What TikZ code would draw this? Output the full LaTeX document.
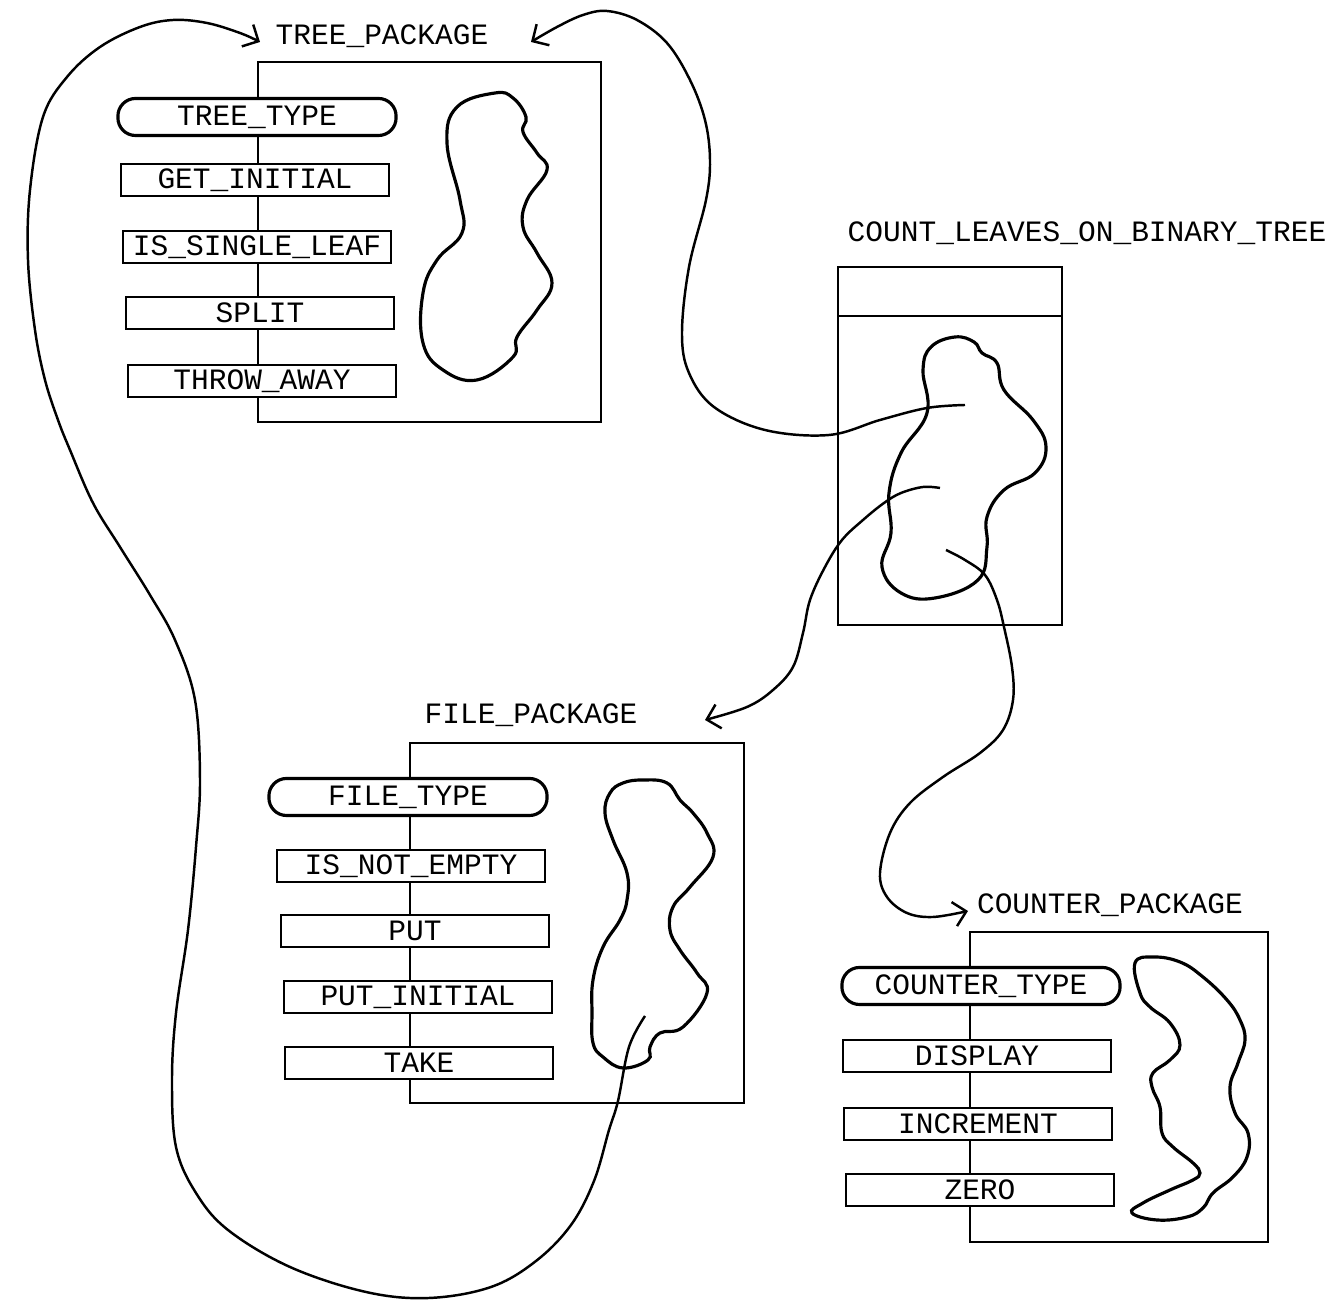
\documentclass[tikz,border=0pt]{standalone}
\usepackage{fontspec}
\setmonofont{Liberation Mono}
\usetikzlibrary{arrows.meta}

\begin{document}
\begin{tikzpicture}[x=0.01cm, y=-0.01cm,
	font=\fontsize{8.4}{10}\selectfont\ttfamily,
	pkgbox/.style={draw, line width=0.6pt, inner sep=0pt},
	opbox/.style={draw, fill=white, line width=0.6pt, inner sep=0pt, minimum width=2.67cm, minimum height=0.32cm},
	typebox/.style={opbox, rounded corners=5pt, minimum width=2.78cm, minimum height=0.37cm, line width=0.9pt},
	blob/.style={line width=0.9pt},
	link/.style={line width=0.7pt, -{Straight Barb[length=3.5pt,width=7pt]}},
	title/.style={inner sep=0pt}]
	\useasboundingbox (0,0) rectangle (1344,1304);

	% titles
	\node[title] (treetitle) at (382,36) {TREE\_PACKAGE};
	\node[title] (counttitle) at (1087,233) {COUNT\_LEAVES\_ON\_BINARY\_TREE};
	\node[title] (filetitle) at (531,715) {FILE\_PACKAGE};
	\node[title] (countertitle) at (1110,905) {COUNTER\_PACKAGE};

	% package bodies
	\node[pkgbox, minimum width=3.43cm, minimum height=3.60cm] (treebox) at (429.5,242) {};
	\node[pkgbox, minimum width=2.24cm, minimum height=3.58cm] (countbox) at (950,446) {};
	\node[pkgbox, minimum width=3.34cm, minimum height=3.60cm] (filebox) at (577,923) {};
	\node[pkgbox, minimum width=2.98cm, minimum height=3.10cm] (counterbox) at (1119,1087) {};
	\draw[line width=0.6pt] (838,316) -- (1062,316);

	% visible parts
	\node[typebox] (treetype) at (257,117) {TREE\_TYPE};
	\node[opbox] (getinitial) at (255,180) {GET\_INITIAL};
	\node[opbox] (issingleleaf) at (257,247) {IS\_SINGLE\_LEAF};
	\node[opbox] (split) at (260,313) {SPLIT};
	\node[opbox] (throwaway) at (262,381) {THROW\_AWAY};

	\node[typebox] (filetype) at (408,797) {FILE\_TYPE};
	\node[opbox] (isnotempty) at (411,866) {IS\_NOT\_EMPTY};
	\node[opbox] (put) at (415,931) {PUT};
	\node[opbox] (putinitial) at (418,997) {PUT\_INITIAL};
	\node[opbox] (take) at (419,1063) {TAKE};

	\node[typebox] (countertype) at (981,986) {COUNTER\_TYPE};
	\node[opbox] (display) at (977,1056) {DISPLAY};
	\node[opbox] (increment) at (978,1124) {INCREMENT};
	\node[opbox] (zero) at (980,1190) {ZERO};

	% bodies (hidden parts)
	\draw[blob] plot[smooth cycle, tension=0.7] coordinates {(495,93) (513,98) (526,117) (523,132) (537,153) (547,170) (527,200) (523,227) (537,253) (552,283) (537,310) (517,337) (513,357) (477,380) (443,370) (423,343) (423,293) (437,260) (462,233) (460,200) (447,143) (457,107)};
	\draw[blob] plot[smooth cycle, tension=0.7] coordinates {(955,337) (974,342) (982,353) (997,363) (1004,390) (1033,420) (1046,447) (1035,473) (1004,490) (987,517) (987,547) (978,580) (935,598) (901,593) (882,567) (891,533) (889,493) (901,453) (927,413) (923,370) (931,347)};
	\draw[blob] plot[smooth cycle, tension=0.7] coordinates {(643,780) (667,783) (680,800) (693,813) (707,833) (713,857) (690,887) (673,907) (670,930) (680,950) (697,973) (707,993) (683,1027) (660,1033) (650,1047) (648,1060) (623,1068) (603,1057) (593,1043) (592,1013) (593,980) (603,947) (620,920) (627,900) (627,873) (613,840) (605,813) (610,793) (623,783)};
	\draw[blob] plot[smooth cycle, tension=0.7] coordinates {(1135,963) (1140,993) (1150,1007) (1170,1023) (1180,1045) (1170,1060) (1153,1073) (1152,1087) (1160,1107) (1162,1133) (1173,1147) (1193,1163) (1200,1173) (1193,1180) (1170,1190) (1143,1203) (1132,1213) (1157,1220) (1187,1217) (1203,1208) (1213,1193) (1233,1177) (1247,1157) (1248,1133) (1235,1113) (1230,1087) (1238,1063) (1245,1040) (1240,1020) (1227,1000) (1203,977) (1180,962) (1153,957)};

	% uses
	\coordinate (fromcount1) at (965,405);
	\coordinate (fromcount2) at (940,488);
	\coordinate (fromcount3) at (946,550);
	\coordinate (fromfile) at (645,1016);
	\coordinate (intree1) at (531,42);
	\coordinate (intree2) at (260,42);
	\coordinate (infile) at (705,720);
	\coordinate (incounter) at (968,911);

	\draw[link] plot[smooth, tension=0.6] coordinates {(fromcount1) (927,408) (880,420) (829,435) (765,430) (714,407) (689,373) (682,333) (689,267) (706,200) (710,160) (705,120) (690,80) (667,43) (637,20) (607,11) (583,15) (557,27) (intree1)};
	\draw[link] plot[smooth, tension=0.6] coordinates {(fromcount2) (923,487) (901,493) (884,503) (863,520) (842,540) (825,567) (810,600) (803,633) (793,667) (773,690) (747,707) (infile)};
	\draw[link] plot[smooth, tension=0.6] coordinates {(fromcount3) (965,560) (985,575) (997,600) (1004,627) (1012,667) (1013,700) (1003,730) (980,753) (943,777) (910,803) (890,833) (880,873) (887,897) (907,913) (933,917) (incounter)};
	\draw[link] plot[smooth, tension=0.6] coordinates {(fromfile) (629,1047) (618,1101) (609,1130) (594,1181) (571,1225) (536,1261) (491,1287) (429,1298) (366,1292) (290,1267) (228,1230) (196,1193) (176,1147) (172,1080) (176,1013) (188,930) (196,847) (200,780) (195,700) (175,640) (150,595) (120,547) (93,503) (70,450) (58,420) (45,380) (35,330) (28,260) (30,190) (43,117) (67,77) (100,47) (140,27) (173,20) (207,23) (240,33) (intree2)};
\end{tikzpicture}
\end{document}
